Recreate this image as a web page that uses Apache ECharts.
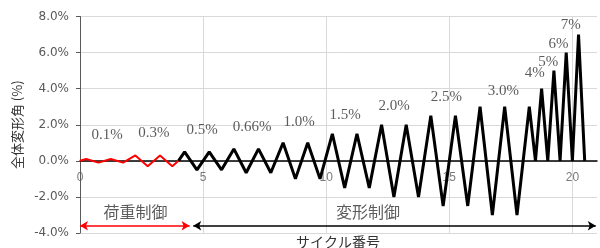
<!DOCTYPE html>
<html>
<head>
<meta charset="utf-8">
<script src="https://cdn.jsdelivr.net/npm/echarts@6.0.0/dist/echarts.min.js"></script>
<style>
html, body { margin: 0; padding: 0; background: #fff; }
#main { width: 600px; height: 248px; }
</style>
</head>
<body>
<div id="main"></div>
<script>
// 荷重制御 (赤線) : サイクル番号, 全体変形角(%)
var redX = [0, 0.25, 0.75, 1.25, 1.75, 2.25, 2.75, 3.25, 3.75, 4];
var redY = [0, 0.1, -0.1, 0.1, -0.1, 0.3, -0.3, 0.3, -0.3, 0];

// 変形制御 (黒線)
var blackX = [4, 4.25, 4.75, 5.25, 5.75, 6.25, 6.75, 7.25, 7.75, 8.25, 8.75, 9.25, 9.75,
    10.25, 10.75, 11.25, 11.75, 12.25, 12.75, 13.25, 13.75, 14.25, 14.75, 15.25, 15.75,
    16.25, 16.75, 17.25, 17.75, 18.25, 18.5, 18.75, 19, 19.25, 19.5, 19.75, 20, 20.25, 20.5];
var blackY = [0, 0.5, -0.5, 0.5, -0.5, 0.66, -0.66, 0.66, -0.66, 1.0, -1.0, 1.0, -1.0,
    1.5, -1.5, 1.5, -1.5, 2.0, -2.0, 2.0, -2.0, 2.5, -2.5, 2.5, -2.5,
    3.0, -3.0, 3.0, -3.0, 3.0, 0, 4, 0, 5, 0, 6, 0, 7, 0];

// 振幅ラベル
var ampText = ['0.1%', '0.3%', '0.5%', '0.66%', '1.0%', '1.5%', '2.0%', '2.5%', '3.0%', '4%', '5%', '6%', '7%'];
var ampX = [1.1, 3.0, 4.96, 6.99, 8.9, 10.77, 12.76, 14.88, 17.2, 18.47, 19.02, 19.44, 19.93];
var ampY = [1.44, 1.55, 1.72, 1.89, 2.17, 2.56, 3.06, 3.56, 3.89, 4.85, 5.5, 6.5, 7.5];

// 制御区間 (矢印)
var phaseText = ['荷重制御', '変形制御'];
var phaseX = [2.25, 11.7];
var phaseY = [-2.83, -2.83];
var loadRange = [0, 4.45];
var dispRange = [4.6, 20.95];
var arrowY = -3.6;

// 軸
var xTicks = [0, 5, 10, 15, 20];
var yMin = -4, yMax = 8, yStep = 2;

var myChart = echarts.init(document.getElementById('main'));

function pairs(xs, ys) {
    var out = [];
    for (var i = 0; i < xs.length; i++) {
        out.push([xs[i], ys[i]]);
    }
    return out;
}

var ampData = [];
for (var i = 0; i < ampText.length; i++) {
    ampData.push({ name: ampText[i], value: [ampX[i], ampY[i]] });
}
var phaseData = [];
for (var j = 0; j < phaseText.length; j++) {
    phaseData.push({ name: phaseText[j], value: [phaseX[j], phaseY[j]] });
}
// x軸の目盛ラベルは 0% の線の下に置く
var xTickData = [];
for (var k = 0; k < xTicks.length; k++) {
    xTickData.push({ name: String(xTicks[k]), value: [xTicks[k], 0] });
}

var option = {
    animation: false,
    backgroundColor: '#fff',
    grid: {
        left: 80,
        right: 3,
        top: 16.5,
        bottom: 15,
        containLabel: false,
        outerBoundsMode: 'none'
    },
    xAxis: {
        type: 'value',
        min: 0,
        max: 21,
        interval: 5,
        axisLine: { onZero: true, lineStyle: { color: '#000', width: 1.5 } },
        axisTick: { show: false },
        axisLabel: { show: false },
        splitLine: {
            show: true,
            showMinLine: false,
            showMaxLine: false,
            lineStyle: { color: '#d9d9d9', width: 1 }
        }
    },
    yAxis: {
        type: 'value',
        min: yMin,
        max: yMax,
        interval: yStep,
        name: '全体変形角 (%)',
        nameLocation: 'middle',
        nameGap: 52,
        nameTextStyle: { color: '#333', fontFamily: 'Noto Sans CJK JP', fontSize: 13 },
        axisLine: { show: true, lineStyle: { color: '#595959', width: 1 } },
        axisTick: { show: true, length: 4, lineStyle: { color: '#595959' } },
        axisLabel: {
            color: '#595959',
            fontFamily: 'DejaVu Sans',
            fontSize: 12,
            margin: 11,
            formatter: function (v) { return v.toFixed(1) + '%'; }
        },
        splitLine: { show: true, lineStyle: { color: '#d9d9d9', width: 1 } }
    },
    graphic: [{
        type: 'text',
        x: 338,
        y: 242,
        style: {
            text: 'サイクル番号',
            fontFamily: 'Noto Sans CJK JP',
            fontSize: 14,
            fill: '#333',
            align: 'center',
            verticalAlign: 'middle'
        }
    }],
    series: [
        {
            name: '荷重制御',
            type: 'line',
            data: pairs(redX, redY),
            symbol: 'none',
            z: 4,
            lineStyle: { color: '#ff0000', width: 2 },
            itemStyle: { color: '#ff0000' },
            markLine: {
                silent: true,
                symbol: ['arrow', 'arrow'],
                symbolSize: [7, 8],
                label: { show: false },
                lineStyle: { color: '#ff0000', width: 1.5, type: 'solid' },
                data: [[{ coord: [loadRange[0], arrowY] }, { coord: [loadRange[1], arrowY] }]]
            }
        },
        {
            name: '変形制御',
            type: 'line',
            data: pairs(blackX, blackY),
            symbol: 'none',
            z: 3,
            lineStyle: { color: '#000', width: 3 },
            itemStyle: { color: '#000' },
            markLine: {
                silent: true,
                symbol: ['arrow', 'arrow'],
                symbolSize: [7, 8],
                label: { show: false },
                lineStyle: { color: '#000', width: 1.5, type: 'solid' },
                data: [[{ coord: [dispRange[0], arrowY] }, { coord: [dispRange[1], arrowY] }]]
            }
        },
        {
            // 振幅の注記
            type: 'scatter',
            data: ampData,
            symbolSize: 0,
            silent: true,
            label: {
                show: true,
                position: 'inside',
                formatter: '{b}',
                color: '#333',
                fontFamily: 'Liberation Serif',
                fontSize: 15
            }
        },
        {
            // 制御方法の注記
            type: 'scatter',
            data: phaseData,
            symbolSize: 0,
            silent: true,
            label: {
                show: true,
                position: 'inside',
                formatter: '{b}',
                color: '#333',
                fontFamily: 'Noto Sans CJK JP',
                fontSize: 16
            }
        },
        {
            // x軸目盛ラベル
            type: 'scatter',
            data: xTickData,
            symbolSize: 0,
            silent: true,
            label: {
                show: true,
                position: 'bottom',
                distance: 11,
                formatter: '{b}',
                color: '#595959',
                fontFamily: 'Liberation Sans',
                fontSize: 12
            }
        }
    ]
};

myChart.setOption(option);
</script>
</body>
</html>
